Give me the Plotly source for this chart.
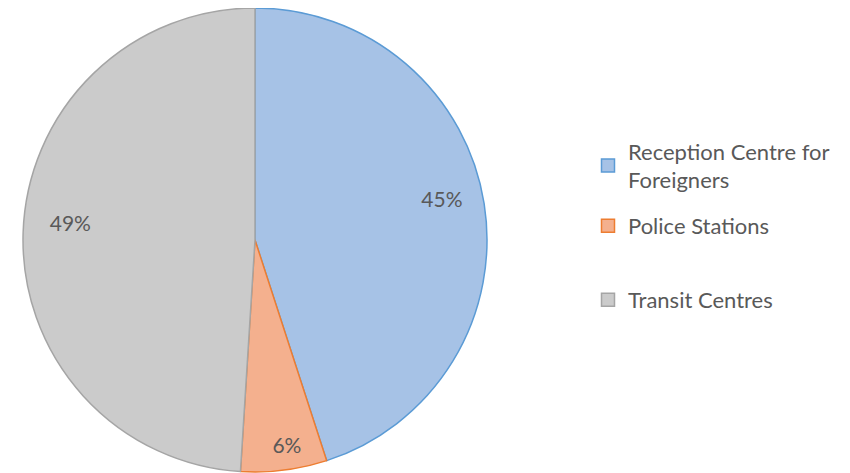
import plotly.graph_objects as go

# Share of places by type of facility (%)
categories = ["Reception Centre for Foreigners", "Police Stations", "Transit Centres"]
legend_names = ["Reception Centre for<br>Foreigners", "Police Stations", "Transit Centres"]
values = [45, 6, 49]
fill_colors = ["#a6c2e6", "#f4b08e", "#cbcbcb"]
line_colors = ["#5b9bd5", "#ed7d31", "#a5a5a5"]

H = 473
W = 850
OFF = 8  # page body margin in the browser


def pie_domain(left=23, right=487, top=8, bottom=472):
    # pie box given in page pixels
    return dict(
        x=[(left - OFF) / W, (right - OFF) / W],
        y=[1 - (bottom - OFF) / H, 1 - (top - OFF) / H],
    )


fig = go.Figure()

# the filled pie
fig.add_trace(go.Pie(
    labels=categories,
    values=values,
    sort=False,
    direction="clockwise",
    rotation=0,
    textinfo="none",
    showlegend=False,
    marker=dict(colors=fill_colors, line=dict(color=line_colors, width=1.5)),
    domain=pie_domain(),
))

# transparent rings on top, only to place the percent labels near the rim
pct = "%{percent:.0%}"
label_layers = [
    (0.72, [pct, "", ""], pie_domain(bottom=448)),           # reception centre
    (0.78, ["", pct, ""], pie_domain(left=29, right=493)),   # police stations
    (0.68, ["", "", pct], pie_domain(bottom=448)),           # transit centres
]
for hole, templates, dom in label_layers:
    fig.add_trace(go.Pie(
        labels=categories,
        values=values,
        sort=False,
        direction="clockwise",
        rotation=0,
        hole=hole,
        texttemplate=templates,
        textposition="inside",
        insidetextorientation="horizontal",
        textfont=dict(family="Lato", size=21, color="#595959"),
        marker=dict(colors=["rgba(0,0,0,0)"] * 3, line=dict(width=0)),
        showlegend=False,
        hoverinfo="skip",
        domain=dom,
    ))

# legend entries, one legend each so the spacing can follow the original
legend_keys = ["legend", "legend2", "legend3"]
legend_mid = [166, 226, 300]
for name, fc, lc, key in zip(legend_names, fill_colors, line_colors, legend_keys):
    fig.add_trace(go.Scatter(
        x=[None], y=[None], mode="markers", name=name, legend=key,
        marker=dict(symbol="square", size=13, color=fc, line=dict(color=lc, width=1.5)),
    ))

leg_style = dict(
    x=580 / W, xanchor="left", yanchor="middle",
    font=dict(family="Lato", size=22, color="#595959"),
    bgcolor="rgba(0,0,0,0)",
)

fig.update_layout(
    width=W,
    height=H,
    margin=dict(l=0, r=0, t=0, b=0),
    paper_bgcolor="white",
    plot_bgcolor="white",
    font=dict(family="Lato", color="#595959"),
    xaxis=dict(visible=False),
    yaxis=dict(visible=False),
    legend=dict(y=1 - (legend_mid[0] - OFF) / H, **leg_style),
    legend2=dict(y=1 - (legend_mid[1] - OFF) / H, **leg_style),
    legend3=dict(y=1 - (legend_mid[2] - OFF) / H, **leg_style),
)

fig.write_html("out.html")
